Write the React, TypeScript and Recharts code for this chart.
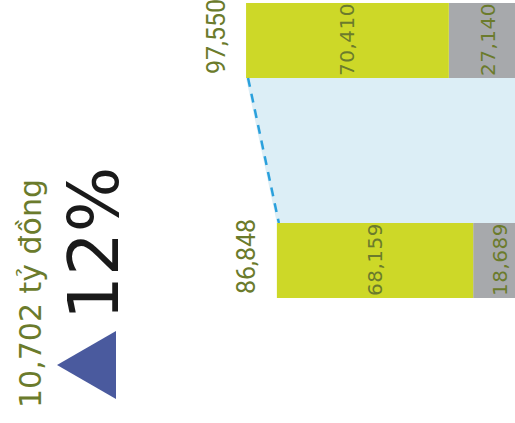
import React from 'react'
import { BarChart, Bar, XAxis, YAxis, LabelList } from 'recharts'

// two periods (values in tỷ đồng)
const periods = ['Năm trước', 'Năm nay']
const mainPart = [70410, 68159]
const otherPart = [27140, 18689]
const totals = [97550, 86848]

const changeLabel = '10,702 tỷ đồng'
const changePct = '12%'

const OLIVE = '#6B7B2C'
const LIME = '#CDD828'
const GREY = '#A7A9AC'
const BRIDGE = '#DCEEF6'
const DASH = '#2AA0DC'

const data = periods.map((name, i) => ({
  name,
  green: mainPart[i],
  gray: otherPart[i],
  total: totals[i],
}))

// geometry of the first bar, kept while the second one draws the bridge
const geom: { top?: { left: number; right: number; bottom: number } } = {}

function GreenShape(props: any) {
  const { x, y, width, height, payload, fill } = props
  const left = Math.min(x, x + width)
  const w = Math.abs(width)
  const k = w / payload.green
  const right = left + w + k * payload.gray
  let bridge = null
  if (payload.name === periods[0]) {
    geom.top = { left, right, bottom: y + height }
  } else if (geom.top) {
    const t = geom.top
    bridge = (
      <g>
        <polygon
          points={`${t.left},${t.bottom} ${t.right},${t.bottom} ${right},${y} ${left},${y}`}
          fill={BRIDGE}
        />
        <line
          x1={t.left + 2}
          y1={t.bottom}
          x2={left + 2}
          y2={y}
          stroke={DASH}
          strokeWidth={2.5}
          strokeDasharray="9 7"
        />
      </g>
    )
  }
  return (
    <g>
      {bridge}
      <rect x={left} y={y} width={w} height={height} fill={fill} />
    </g>
  )
}

const fmt = (v: number) => v.toLocaleString('en-US')

function InsideLabel(props: any) {
  const { x, y, width, height, value } = props
  const cx = Math.min(x, x + width) + Math.abs(width) / 2
  const sy = y + height - 2
  return (
    <text
      transform={`translate(${cx},${sy}) rotate(-90)`}
      fill={OLIVE}
      fontFamily="DejaVu Sans"
      fontSize={20}
      letterSpacing={0.5}
      dominantBaseline="central"
      textAnchor="start"
    >
      {fmt(value)}
    </text>
  )
}

function TotalLabel(props: any) {
  const { x, y, width, height, value } = props
  const cx = Math.min(x, x + width) - 30
  const sy = y + height - 4
  return (
    <text
      transform={`translate(${cx},${sy}) rotate(-90)`}
      fill={OLIVE}
      fontFamily="Roboto"
      fontSize={25}
      dominantBaseline="central"
      textAnchor="start"
    >
      {fmt(value)}
    </text>
  )
}

export default function App() {
  return (
    <div
      style={{
        position: 'fixed',
        top: 0,
        left: 0,
        width: 515,
        height: 423,
        overflow: 'hidden',
        background: '#fff',
      }}
    >
      <div style={{ position: 'absolute', top: -70, left: 0 }}>
        <BarChart
          width={527}
          height={440}
          data={data}
          layout="vertical"
          margin={{ top: 0, right: 0, left: 95, bottom: 0 }}
        >
          <XAxis type="number" domain={[0, 150000]} reversed hide />
          <YAxis type="category" dataKey="name" hide />
          <Bar dataKey="gray" stackId="a" fill={GREY} barSize={75} isAnimationActive={false}>
            <LabelList dataKey="gray" content={<InsideLabel />} />
          </Bar>
          <Bar
            dataKey="green"
            stackId="a"
            fill={LIME}
            barSize={75}
            shape={<GreenShape />}
            isAnimationActive={false}
          >
            <LabelList dataKey="green" content={<InsideLabel />} />
            <LabelList dataKey="total" content={<TotalLabel />} />
          </Bar>
        </BarChart>
      </div>

      {/* change call-out on the left */}
      <svg width={515} height={423} style={{ position: 'absolute', top: 0, left: 0, pointerEvents: 'none' }}>
        <text
          transform="translate(41,408) rotate(-90)"
          fill={OLIVE}
          fontFamily="DejaVu Sans"
          fontSize={30}
        >
          {changeLabel}
        </text>
        <polygon points="57,365 116,331 116,399" fill="#4A5A9E" />
        <text
          transform="translate(118,320) rotate(-90)"
          fill="#1a1a1a"
          fontFamily="DejaVu Sans"
          fontSize={69}
        >
          {changePct}
        </text>
      </svg>
    </div>
  )
}
